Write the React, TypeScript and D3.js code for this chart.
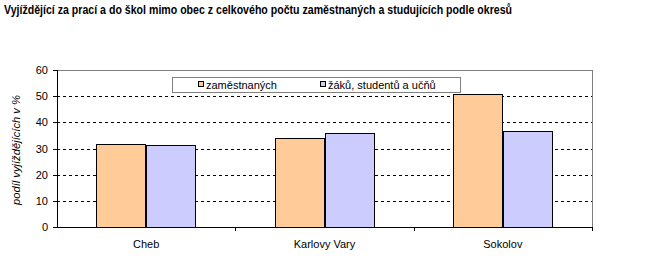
import React from "react";
import * as d3 from "d3";

const categories = ["Cheb", "Karlovy Vary", "Sokolov"];
const seriesNames = ["zaměstnaných", "žáků, studentů a učňů"];
const zamestnanych = [31.6, 33.9, 50.7];
const zaku = [31.2, 35.8, 36.6];
const yTicks = [0, 10, 20, 30, 40, 50, 60];
const colors = ["#FFCC99", "#CCCCFF"];

const W = 655, H = 273;
const left = 57, right = 592, top = 70, bottom = 227;

export default function App() {
  const x = d3.scaleBand().domain(categories).range([left, right]).paddingInner(0).paddingOuter(0);
  const y = d3.scaleLinear().domain([0, 60]).range([bottom, top]);
  const series = [zamestnanych, zaku];
  const bw = x.bandwidth();
  const barW = bw * 0.28;
  const font = "Liberation Sans, Arial, sans-serif";
  return (
    <svg width={W} height={H} style={{ position: "absolute", left: 0, top: 0, background: "#fff" }}>
      <text x={4} y={14} fontFamily="Liberation Sans, Arial, sans-serif" fontWeight="bold" fontSize={13.5} fill="#000"
        textLength={508} lengthAdjust="spacingAndGlyphs">
        Vyjíždějící za prací a do škol mimo obec z celkového počtu zaměstnaných a studujících podle okresů
      </text>
      {/* plot border top/right */}
      <line x1={left} x2={right} y1={top + 0.5} y2={top + 0.5} stroke="#808080" />
      <line x1={right + 0.5} x2={right + 0.5} y1={top} y2={bottom} stroke="#808080" />
      {/* gridlines */}
      {yTicks.filter(t => t > 0 && t < 60).map(t => (
        <line key={t} x1={left} x2={right} y1={Math.round(y(t)) + 0.5} y2={Math.round(y(t)) + 0.5} stroke="#000" strokeDasharray="3,3" />
      ))}
      {/* bars */}
      {categories.map((c, i) => {
        const cx = (x(c) as number) + bw / 2;
        return series.map((s, j) => {
          const x0 = j === 0 ? cx - barW : cx;
          return (
            <rect key={c + j} x={Math.round(x0) + 0.5} y={Math.round(y(s[i])) + 0.5} width={Math.round(barW) - 1}
              height={Math.round(bottom - y(s[i]))} fill={colors[j]} stroke="#000" strokeWidth={1} />
          );
        });
      })}
      {/* axes */}
      <line x1={left + 0.5} x2={left + 0.5} y1={top} y2={bottom + 1} stroke="#000" />
      <line x1={left} x2={right + 1} y1={bottom + 0.5} y2={bottom + 0.5} stroke="#000" />
      {yTicks.map(t => (
        <g key={t}>
          <line x1={left - 4} x2={left} y1={Math.round(y(t)) + 0.5} y2={Math.round(y(t)) + 0.5} stroke="#000" />
          <text x={48} y={y(t) + 4} textAnchor="end" fontFamily={font} fontSize={11} fill="#000">{t}</text>
        </g>
      ))}
      {categories.map((c, i) => (
        <g key={c}>
          {i > 0 && <line x1={Math.round(x(c) as number) + 0.5} x2={Math.round(x(c) as number) + 0.5} y1={bottom} y2={bottom + 4} stroke="#000" />}
          <text x={(x(c) as number) + bw / 2} y={248} textAnchor="middle" fontFamily={font} fontSize={11} fill="#000">{c}</text>
        </g>
      ))}
      <line x1={right + 0.5} x2={right + 0.5} y1={bottom} y2={bottom + 4} stroke="#000" />
      {/* y label */}
      <text transform={`translate(20,${150}) rotate(-90)`} textAnchor="middle" fontFamily={font} fontStyle="italic" fontSize={10.5} fill="#000"
        textLength={110} lengthAdjust="spacingAndGlyphs">
        podíl vyjíždějících v %
      </text>
      {/* legend */}
      <rect x={172.5} y={77.5} width={288} height={15} fill="#fff" stroke="#808080" />
      {seriesNames.map((n, j) => {
        const lx = j === 0 ? 198 : 320;
        return (
          <g key={n}>
            <rect x={lx + 0.5} y={81.5} width={5} height={5} fill={colors[j]} stroke="#000" />
            <text x={lx + 8} y={89} fontFamily={font} fontSize={11} fill="#000">{n}</text>
          </g>
        );
      })}
    </svg>
  );
}
